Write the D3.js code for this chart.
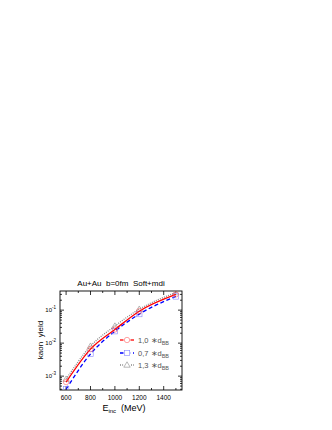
<!DOCTYPE html>
<html>
<head>
<meta charset="utf-8">
<script src="https://cdn.jsdelivr.net/npm/d3@7"></script>
<style>
  body { margin: 0; background: #fff; }
  svg text { font-family: "Liberation Sans", Arial, sans-serif; fill: #000; white-space: pre; }
</style>
</head>
<body>
<div id="chart"></div>
<script>
const energies = [600, 800, 1000, 1200, 1500];
const yieldD10 = [6.6e-4, 6.6e-3, 0.026, 0.093, 0.30];
const yieldD07 = [4.0e-4, 4.7e-3, 0.023, 0.076, 0.26];
const yieldD13 = [8.1e-4, 8.1e-3, 0.033, 0.107, 0.34];
const xTicks = [600, 800, 1000, 1200, 1400];
const yTicks = [1e-3, 1e-2, 1e-1];
const yTickLabels = ["-3", "-2", "-1"];

const series = [
  { name: "1,0", values: yieldD10, color: "#ff0000", mark: "#ff6666", dash: null, width: 1.3, symbol: "circle" },
  { name: "0,7", values: yieldD07, color: "#0000ff", mark: "#8888ff", dash: "4,2.5", width: 1.3, symbol: "square" },
  { name: "1,3", values: yieldD13, color: "#888888", mark: "#888888", dash: "1,1.2", width: 1.3, symbol: "triangle" }
];

const W = 332, H = 430;
const pL = 60, pR = 182, pT = 291, pB = 390;

const svg = d3.select("#chart").append("svg").attr("width", W).attr("height", H);

const x = d3.scaleLinear().domain([550, 1550]).range([pL, pR]);
const y = d3.scaleLog().domain([10 ** -3.42, 10 ** -0.42]).range([pB, pT]);

svg.append("defs").append("clipPath").attr("id", "clip")
  .append("rect").attr("x", pL).attr("y", pT).attr("width", pR - pL).attr("height", pB - pT);

// ticks (inward) on all four sides
const tickG = svg.append("g").attr("stroke", "#000").attr("stroke-width", 0.8);
d3.range(600, 1550, 100).forEach(v => {
  const len = v % 200 === 0 ? 4 : 2;
  tickG.append("line").attr("x1", x(v)).attr("x2", x(v)).attr("y1", pB).attr("y2", pB - len);
  tickG.append("line").attr("x1", x(v)).attr("x2", x(v)).attr("y1", pT).attr("y2", pT + len);
});
const yMinor = [];
[1e-4, 1e-3, 1e-2, 1e-1].forEach(d => {
  for (let k = 1; k <= 9; k++) {
    const v = d * k;
    if (v >= y.domain()[0] && v <= y.domain()[1]) yMinor.push({ v, major: k === 1 });
  }
});
yMinor.forEach(t => {
  const len = t.major ? 4 : 2;
  tickG.append("line").attr("x1", pL).attr("x2", pL + len).attr("y1", y(t.v)).attr("y2", y(t.v));
  tickG.append("line").attr("x1", pR).attr("x2", pR - len).attr("y1", y(t.v)).attr("y2", y(t.v));
});

// frame
svg.append("rect").attr("x", pL).attr("y", pT).attr("width", pR - pL).attr("height", pB - pT)
  .attr("fill", "none").attr("stroke", "#000").attr("stroke-width", 0.9);

// x tick labels
svg.append("g").selectAll("text").data(xTicks).enter().append("text")
  .attr("x", d => x(d)).attr("y", 400)
  .attr("text-anchor", "middle").attr("font-size", 6.5)
  .text(d => d);

// y tick labels
const yl = svg.append("g").selectAll("text").data(yTicks).enter().append("text")
  .attr("x", 56).attr("y", d => y(d) + 2)
  .attr("text-anchor", "end").attr("font-size", 6);
yl.append("tspan").text("10");
yl.append("tspan").attr("dy", -3).attr("font-size", 4.5).text((d, i) => yTickLabels[i]);

// title
svg.append("text").attr("x", 121).attr("y", 286).attr("text-anchor", "middle")
  .attr("font-size", 8).text("Au+Au  b=0fm  Soft+mdi");

// axis labels
const xl = svg.append("text").attr("x", 124).attr("y", 411).attr("text-anchor", "middle").attr("font-size", 9);
xl.append("tspan").text("E");
xl.append("tspan").attr("dy", 2).attr("font-size", 6).text("inc");
xl.append("tspan").attr("dy", -2).text("  (MeV)");

svg.append("text").attr("transform", "translate(43,340) rotate(-90)")
  .attr("text-anchor", "middle").attr("font-size", 8).text("kaon  yield");

// curves
const line = d3.line()
  .x((d, i) => x(energies[i]))
  .y(d => y(d))
  .curve(d3.curveMonotoneX);

const plot = svg.append("g").attr("clip-path", "url(#clip)");

function drawSymbol(g, type, cx, cy, color) {
  const s = 2.7;
  if (type === "circle") {
    g.append("circle").attr("cx", cx).attr("cy", cy).attr("r", s)
      .attr("fill", "none").attr("stroke", color).attr("stroke-width", 0.6);
  } else if (type === "square") {
    g.append("rect").attr("x", cx - s).attr("y", cy - s).attr("width", 2 * s).attr("height", 2 * s)
      .attr("fill", "none").attr("stroke", color).attr("stroke-width", 0.6);
  } else {
    g.append("path").attr("d", `M${cx},${cy - s - 0.5}L${cx + s + 0.5},${cy + s - 0.5}L${cx - s - 0.5},${cy + s - 0.5}Z`)
      .attr("fill", "none").attr("stroke", color).attr("stroke-width", 0.6);
  }
}

series.slice().reverse().forEach(s => {
  plot.append("path").datum(s.values)
    .attr("d", line)
    .attr("fill", "none")
    .attr("stroke", s.color)
    .attr("stroke-width", s.width)
    .attr("stroke-dasharray", s.dash);
  s.values.forEach((v, i) => drawSymbol(plot, s.symbol, x(energies[i]), y(v), s.mark));
});

// legend
const legendY = [340, 353, 365];
series.forEach((s, i) => {
  const g = svg.append("g");
  const ly = legendY[i];
  g.append("line").attr("x1", 120).attr("x2", 134).attr("y1", ly).attr("y2", ly)
    .attr("stroke", s.color).attr("stroke-width", s.width).attr("stroke-dasharray", s.dash);
  g.append("rect").attr("x", 123.5).attr("y", ly - 3.5).attr("width", 7).attr("height", 7).attr("fill", "#fff");
  drawSymbol(g, s.symbol, 127, ly, s.mark);
  const t = g.append("text").attr("x", 138).attr("y", ly + 2.5).attr("font-size", 7.5).style("fill", "#555");
  t.append("tspan").text(s.name + " \u2217d");
  t.append("tspan").attr("dy", 2).attr("font-size", 5.5).text("BB");
});
</script>
</body>
</html>
